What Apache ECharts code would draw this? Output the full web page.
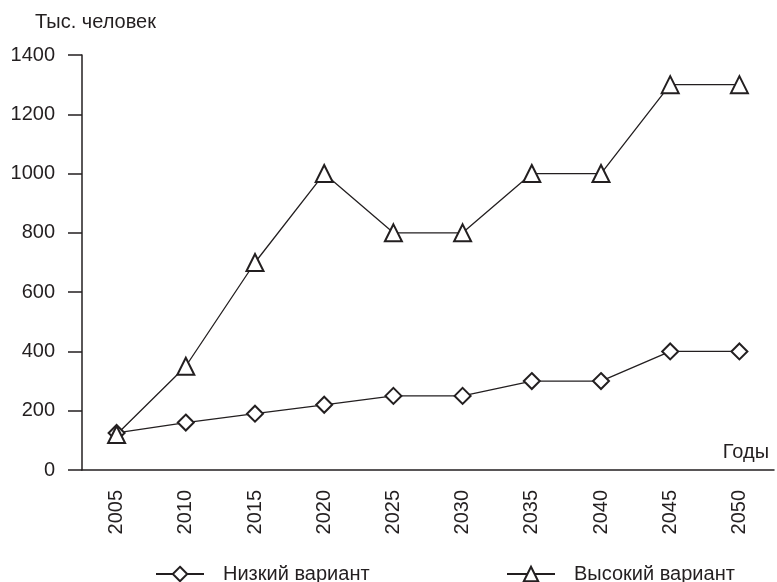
<!DOCTYPE html>
<html><head><meta charset="utf-8">
<script src="https://cdn.jsdelivr.net/npm/echarts@6/dist/echarts.min.js"></script>
<style>html,body{margin:0;padding:0;background:#fff}#c{width:777px;height:582px}</style>
</head><body><div id="c"></div>
<script>
const years = ['2005','2010','2015','2020','2025','2030','2035','2040','2045','2050'];
const lowValues = [125, 160, 190, 220, 250, 250, 300, 300, 400, 400];
const highValues = [120, 350, 700, 1000, 800, 800, 1000, 1000, 1300, 1300];
const lowName = 'Низкий вариант';
const highName = 'Высокий вариант';
const yTitle = 'Тыс. человек';
const xTitle = 'Годы';

const FONT = '"Liberation Sans", Arial, sans-serif';
const INK = '#231f20';
const FS = 20;
const chart = echarts.init(document.getElementById('c'), null, {renderer: 'canvas'});
chart.setOption({
  animation: false,
  textStyle: {fontFamily: FONT, color: INK},
  title: [
    {text: yTitle, left: 30, top: 7, textStyle: {fontFamily: FONT, fontSize: FS, fontWeight: 'normal', color: INK}},
    {text: xTitle, right: 3, top: 437, textStyle: {fontFamily: FONT, fontSize: FS, fontWeight: 'normal', color: INK}}
  ],
  grid: {left: 82, right: 3, top: 55, bottom: 112, containLabel: false},
  legend: [
    {data: [lowName], left: 155, top: 564, padding: 0, itemWidth: 48, itemHeight: 18, textStyle: {fontFamily: FONT, fontSize: FS, color: INK, padding: [0,0,0,14]}},
    {data: [highName], left: 506, top: 564, padding: 0, itemWidth: 48, itemHeight: 18, textStyle: {fontFamily: FONT, fontSize: FS, color: INK, padding: [0,0,0,14]}}
  ],
  xAxis: {
    type: 'category', data: years, boundaryGap: true,
    axisLine: {lineStyle: {color: INK, width: 1.5}},
    axisTick: {length: 14, lineStyle: {color: INK, width: 1.5}},
    axisLabel: {rotate: 90, margin: 20, fontSize: FS, color: INK, fontFamily: FONT}
  },
  yAxis: {
    type: 'value', min: 0, max: 1400, interval: 200,
    axisLine: {show: true, lineStyle: {color: INK, width: 1.5}},
    axisTick: {show: true, length: 14, lineStyle: {color: INK, width: 1.5}},
    axisLabel: {margin: 27, fontSize: FS, color: INK, fontFamily: FONT, formatter: v => String(v)},
    splitLine: {show: false}
  },
  series: [
    {name: lowName, type: 'line', data: lowValues, symbol: 'emptyDiamond', symbolSize: 16,
     lineStyle: {color: INK, width: 1.3}, itemStyle: {color: INK, borderColor: INK, borderWidth: 1.8}},
    {name: highName, type: 'line', data: highValues, symbol: 'emptyTriangle', symbolSize: 17,
     lineStyle: {color: INK, width: 1.3}, itemStyle: {color: INK, borderColor: INK, borderWidth: 2}}
  ]
});
</script></body></html>
